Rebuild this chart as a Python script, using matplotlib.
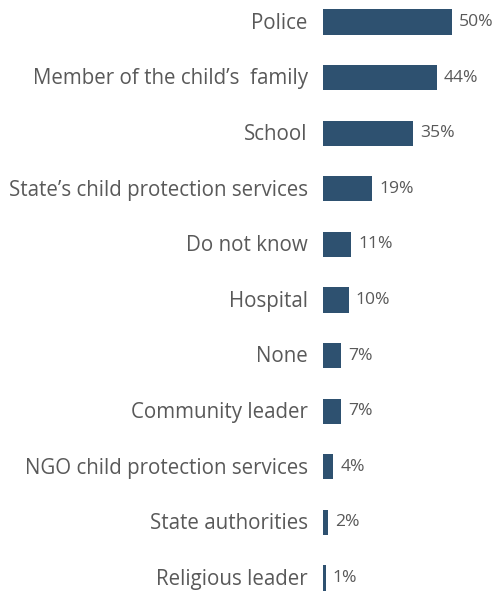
import matplotlib.pyplot as plt

plt.rcParams['font.family'] = ['Open Sans', 'DejaVu Sans']

categories = ["Police", "Member of the child\u2019s  family", "School",
              "State\u2019s child protection services", "Do not know", "Hospital",
              "None", "Community leader", "NGO child protection services",
              "State authorities", "Religious leader"]
values = [50, 44, 35, 19, 11, 10, 7, 7, 4, 2, 1]

bar_color = "#2E5170"
text_color = "#595959"

fig = plt.figure(figsize=(4.96, 5.95), dpi=100)
ax = fig.add_axes([323 / 496, 0, 173 / 496, 1])

y = list(range(len(categories)))
ax.barh(y, values, height=0.45, color=bar_color)

ax.set_xlim(0, 173 / 2.58)
ax.set_ylim(10 + 17 / 55.6, -22 / 55.6)

for yi, v in zip(y, values):
    ax.text(v + 7 / 2.58, yi, f"{v}%", va="center", ha="left",
            fontsize=12.6, color=text_color)

for yi, c in zip(y, categories):
    ax.annotate(c, xy=(0, yi), xycoords="data", xytext=(-11, -1),
                textcoords="offset points", va="center", ha="right",
                fontsize=14.8, color=text_color)

ax.axis("off")
fig.savefig("out.png", dpi=100)
